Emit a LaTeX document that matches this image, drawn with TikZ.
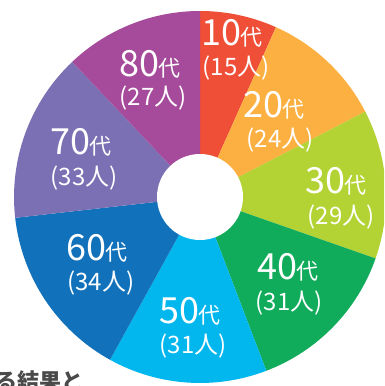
\documentclass[tikz,border=0pt]{standalone}
\usepackage{fontspec}
\setmainfont{Noto Sans CJK JP}
\tikzset{
  dai/.style={text=white, inner sep=0pt, font=\fontsize{36}{36}\selectfont},
  ninzu/.style={text=white, inner sep=0pt, font=\fontsize{24}{24}\selectfont}
}
\newcommand{\kanjidai}{{\fontsize{22}{22}\selectfont 代}}
\begin{document}
\begin{tikzpicture}[x=1pt, y=1pt]
\useasboundingbox (0,0) rectangle (384,386);
\clip (0,0) rectangle (384,386);
\coordinate (c) at (200,189);
% slices, clockwise from the top
\definecolor{col}{HTML}{EF4E37}
\fill[col] (c) -- ++(90:186) arc[start angle=90, end angle=65.89, radius=186] -- cycle;
\definecolor{col}{HTML}{FBB041}
\fill[col] (c) -- ++(65.89:186) arc[start angle=65.89, end angle=27.32, radius=186] -- cycle;
\definecolor{col}{HTML}{B3D334}
\fill[col] (c) -- ++(27.32:186) arc[start angle=27.32, end angle=-19.29, radius=186] -- cycle;
\definecolor{col}{HTML}{11AC5B}
\fill[col] (c) -- ++(-19.29:186) arc[start angle=-19.29, end angle=-69.11, radius=186] -- cycle;
\definecolor{col}{HTML}{01B7EE}
\fill[col] (c) -- ++(-69.11:186) arc[start angle=-69.11, end angle=-118.93, radius=186] -- cycle;
\definecolor{col}{HTML}{1172BB}
\fill[col] (c) -- ++(-118.93:186) arc[start angle=-118.93, end angle=-173.57, radius=186] -- cycle;
\definecolor{col}{HTML}{7A70B3}
\fill[col] (c) -- ++(-173.57:186) arc[start angle=-173.57, end angle=-226.61, radius=186] -- cycle;
\definecolor{col}{HTML}{A64A9B}
\fill[col] (c) -- ++(-226.61:186) arc[start angle=-226.61, end angle=-270, radius=186] -- cycle;
\fill[white] (c) circle[radius=43];
% labels
\node[dai] (d10) at (232,353) {10\kanjidai};
\node[ninzu] (n10) at (236,318) {(15人)};
\node[dai] (d20) at (274,281) {20\kanjidai};
\node[ninzu] (n20) at (280,246) {(24人)};
\node[dai] (d30) at (336,205) {30\kanjidai};
\node[ninzu] (n30) at (341,169) {(29人)};
\node[dai] (d40) at (288,119) {40\kanjidai};
\node[ninzu] (n40) at (289,83) {(31人)};
\node[dai] (d50) at (190,75) {50\kanjidai};
\node[ninzu] (n50) at (193,40) {(31人)};
\node[dai] (d60) at (97,138) {60\kanjidai};
\node[ninzu] (n60) at (101,103) {(34人)};
\node[dai] (d70) at (81,244) {70\kanjidai};
\node[ninzu] (n70) at (84,208) {(33人)};
\node[dai] (d80) at (150,322) {80\kanjidai};
\node[ninzu] (n80) at (153,288) {(27人)};
% cut-off caption text
\definecolor{capgray}{HTML}{4A4A4A}
\node[anchor=north west, inner sep=0pt, text=capgray, font=\bfseries\fontsize{22}{22}\selectfont] (caption) at (-5,16) {る結果と};
\end{tikzpicture}
\end{document}
